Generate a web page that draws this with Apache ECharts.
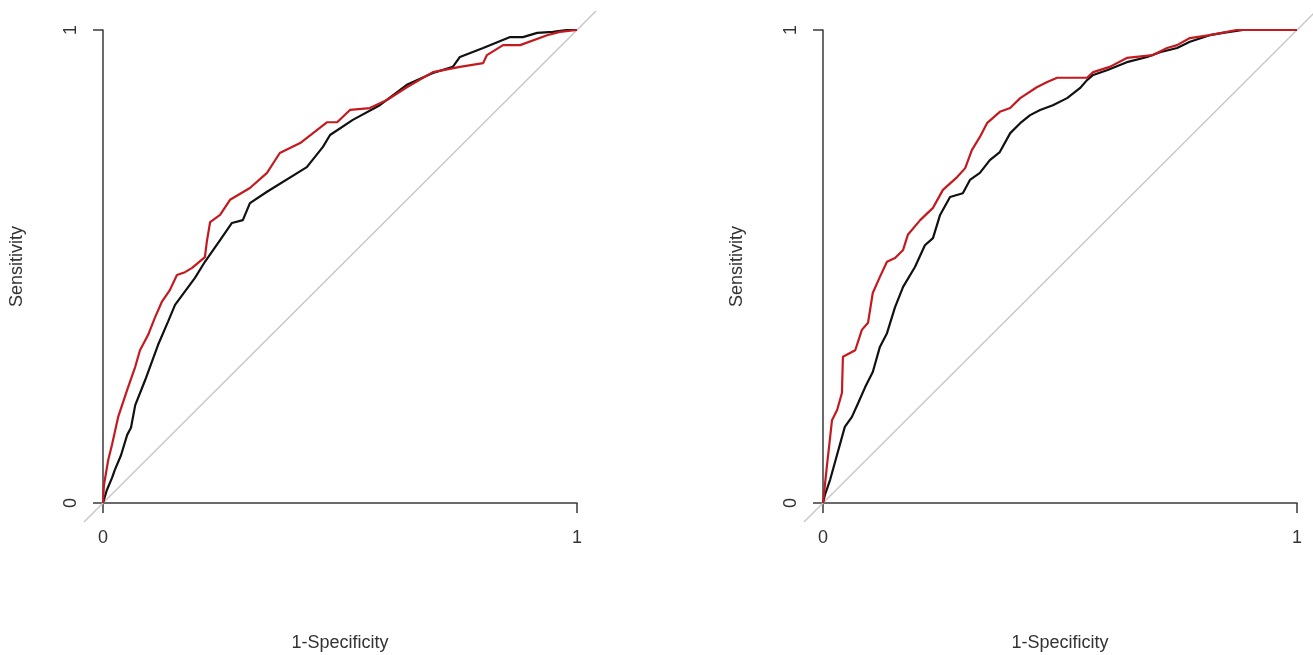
<!DOCTYPE html>
<html>
<head>
<meta charset="utf-8">
<title>ROC curves</title>
<script src="https://cdn.jsdelivr.net/npm/echarts@6/dist/echarts.min.js"></script>
<style>
  html, body { margin: 0; padding: 0; background: #fff; }
  #chart { width: 1313px; height: 655px; }
</style>
</head>
<body>
<div id="chart"></div>
<script>
// [1-specificity, sensitivity] pairs
const leftBlack = [
  [0, 0], [0.008, 0.027], [0.019, 0.053], [0.025, 0.070], [0.038, 0.101], [0.051, 0.144],
  [0.059, 0.159], [0.068, 0.207], [0.089, 0.260], [0.116, 0.334], [0.137, 0.383], [0.152, 0.419],
  [0.194, 0.476], [0.215, 0.510], [0.247, 0.556], [0.272, 0.592], [0.295, 0.598], [0.310, 0.634],
  [0.346, 0.658], [0.430, 0.710], [0.464, 0.753], [0.479, 0.778], [0.527, 0.810], [0.584, 0.841],
  [0.641, 0.884], [0.696, 0.909], [0.738, 0.922], [0.753, 0.943], [0.802, 0.962], [0.859, 0.985],
  [0.886, 0.985], [0.916, 0.994], [0.949, 0.996], [0.979, 1], [1, 1]
];
const leftRed = [
  [0, 0], [0.002, 0.038], [0.011, 0.091], [0.019, 0.123], [0.032, 0.182], [0.044, 0.218],
  [0.053, 0.245], [0.068, 0.288], [0.078, 0.323], [0.095, 0.355], [0.110, 0.393], [0.124, 0.425],
  [0.141, 0.450], [0.156, 0.482], [0.173, 0.488], [0.188, 0.497], [0.215, 0.520], [0.219, 0.552],
  [0.226, 0.594], [0.247, 0.609], [0.268, 0.641], [0.310, 0.666], [0.346, 0.698], [0.373, 0.740],
  [0.416, 0.761], [0.473, 0.805], [0.494, 0.805], [0.521, 0.831], [0.563, 0.835], [0.599, 0.852],
  [0.641, 0.879], [0.696, 0.911], [0.753, 0.922], [0.802, 0.930], [0.810, 0.947], [0.844, 0.968],
  [0.880, 0.968], [0.937, 0.989], [0.964, 0.996], [1, 1]
];
const rightBlack = [
  [0, 0], [0.004, 0.017], [0.015, 0.049], [0.025, 0.085], [0.046, 0.161], [0.061, 0.182],
  [0.074, 0.211], [0.089, 0.245], [0.105, 0.277], [0.120, 0.330], [0.135, 0.359], [0.152, 0.414],
  [0.169, 0.457], [0.194, 0.499], [0.215, 0.545], [0.232, 0.560], [0.247, 0.609], [0.268, 0.647],
  [0.295, 0.655], [0.310, 0.683], [0.331, 0.698], [0.352, 0.725], [0.373, 0.742], [0.395, 0.782],
  [0.416, 0.803], [0.437, 0.820], [0.458, 0.831], [0.485, 0.841], [0.515, 0.856], [0.542, 0.877],
  [0.557, 0.894], [0.570, 0.905], [0.599, 0.915], [0.641, 0.932], [0.684, 0.943], [0.711, 0.953],
  [0.747, 0.962], [0.774, 0.975], [0.816, 0.989], [0.844, 0.994], [0.886, 1], [1, 1]
];
const rightRed = [
  [0, 0], [0.004, 0.038], [0.008, 0.076], [0.019, 0.175], [0.030, 0.197], [0.040, 0.233],
  [0.042, 0.309], [0.068, 0.323], [0.082, 0.366], [0.095, 0.381], [0.105, 0.444], [0.120, 0.478],
  [0.135, 0.510], [0.152, 0.518], [0.169, 0.535], [0.179, 0.567], [0.205, 0.598], [0.232, 0.624],
  [0.253, 0.662], [0.283, 0.689], [0.300, 0.708], [0.314, 0.746], [0.331, 0.774], [0.346, 0.803],
  [0.373, 0.827], [0.395, 0.835], [0.416, 0.856], [0.451, 0.879], [0.473, 0.890], [0.494, 0.899],
  [0.557, 0.899], [0.570, 0.911], [0.605, 0.922], [0.641, 0.941], [0.696, 0.947], [0.726, 0.962],
  [0.747, 0.968], [0.774, 0.983], [0.816, 0.989], [0.873, 1], [1, 1]
];
// reference diagonal, spans the whole plot region (R pads the range by 4%)
const diagonal = [[-0.04, -0.04], [1.04, 1.04]];
const plotRange = [-0.04, 1.04];
const tickValues = [0, 1];
const xTitle = "1-Specificity";
const yTitle = "Sensitivity";

(function () {
  const FONT = "Liberation Sans, Arial, sans-serif";
  const AXIS_COLOR = "#3a3a3a";
  const TEXT_COLOR = "#333";

  function axisCommon() {
    return {
      type: "value",
      min: tickValues[0],
      max: tickValues[tickValues.length - 1],
      interval: 1,
      splitLine: { show: false },
      axisLine: { show: true, lineStyle: { color: AXIS_COLOR, width: 1.5 } },
      axisTick: { show: true, length: 10, lineStyle: { color: AXIS_COLOR, width: 1.5 } },
      nameTextStyle: { color: TEXT_COLOR, fontFamily: FONT, fontSize: 18 }
    };
  }

  function makeX(gridIndex) {
    return {
      ...axisCommon(),
      gridIndex,
      name: xTitle,
      nameLocation: "middle",
      nameGap: 131,
      axisLabel: { color: TEXT_COLOR, fontFamily: FONT, fontSize: 18, margin: 26 }
    };
  }

  function makeY(gridIndex) {
    return {
      ...axisCommon(),
      gridIndex,
      name: yTitle,
      nameLocation: "middle",
      nameGap: 77,
      axisLabel: { color: TEXT_COLOR, fontFamily: FONT, fontSize: 18, margin: 23, rotate: 90 }
    };
  }

  // invisible axis spanning the padded plot region, only for the diagonal
  function hiddenAxis(gridIndex) {
    return {
      type: "value",
      gridIndex,
      min: plotRange[0],
      max: plotRange[1],
      show: false
    };
  }

  function curve(data, color, idx) {
    return {
      type: "line",
      data,
      xAxisIndex: idx,
      yAxisIndex: idx,
      symbol: "none",
      smooth: false,
      z: 3,
      lineStyle: { color, width: 2.2 }
    };
  }

  function diag(idx) {
    return {
      type: "line",
      data: diagonal,
      xAxisIndex: idx,
      yAxisIndex: idx,
      symbol: "none",
      silent: true,
      z: 1,
      lineStyle: { color: "#c8c8c8", width: 1.5 }
    };
  }

  const chart = echarts.init(document.getElementById("chart"), null, { renderer: "canvas" });
  chart.setOption({
    animation: false,
    backgroundColor: "#fff",
    grid: [
      { left: 103, top: 30, width: 474, height: 473, outerBoundsMode: "none", containLabel: false },
      { left: 823, top: 30, width: 474, height: 473, outerBoundsMode: "none", containLabel: false },
      { left: 84, top: 11, width: 512, height: 511, outerBoundsMode: "none", containLabel: false },
      { left: 804, top: 11, width: 512, height: 511, outerBoundsMode: "none", containLabel: false }
    ],
    xAxis: [makeX(0), makeX(1), hiddenAxis(2), hiddenAxis(3)],
    yAxis: [makeY(0), makeY(1), hiddenAxis(2), hiddenAxis(3)],
    series: [
      diag(2),
      diag(3),
      curve(leftBlack, "#111", 0),
      curve(leftRed, "#c41a1f", 0),
      curve(rightBlack, "#111", 1),
      curve(rightRed, "#c41a1f", 1)
    ]
  });
})();
</script>
</body>
</html>
